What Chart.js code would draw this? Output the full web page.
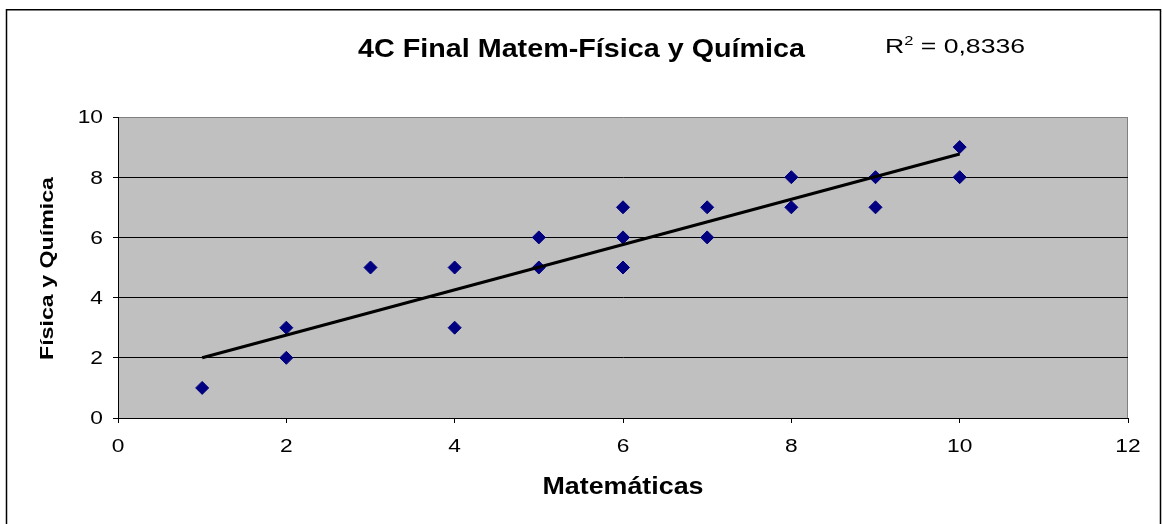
<!DOCTYPE html>
<html lang="es">
<head>
<meta charset="utf-8">
<title>4C Final Matem-Física y Química</title>
<script src="https://cdn.jsdelivr.net/npm/chart.js@4/dist/chart.umd.min.js"></script>
<style>
  html, body { margin: 0; padding: 0; background: #ffffff; }
  #wrap { width: 1162px; height: 524px; }
  canvas { display: block; }
</style>
</head>
<body>
<div id="wrap"><canvas id="grafico" width="1162" height="524"></canvas></div>
<script>
// Notas de cada alumno: Matemáticas (x) frente a Física y Química (y)
const matematicas   = [1, 2, 2, 3, 4, 4, 5, 5, 6, 6, 6, 7, 7, 8, 8, 9, 9, 10, 10];
const fisicaQuimica = [1, 3, 2, 5, 5, 3, 6, 5, 7, 6, 5, 7, 6, 8, 7, 8, 7, 9, 8];

// Extremos de la línea de tendencia lineal
const tendenciaX = [1, 10];
const tendenciaY = [2.0, 8.77];

// Coeficiente de determinación mostrado junto al título
const valorR2 = '0,8336';

// Marcas de los ejes
const ticksX = [0, 2, 4, 6, 8, 10, 12];
const ticksY = [0, 2, 4, 6, 8, 10];

const titulo = '4C Final Matem-Física y Química';
const tituloX = 'Matemáticas';
const tituloY = 'Física y Química';

const FAMILIA = "'Liberation Sans', Arial, Helvetica, sans-serif";

// Texto con escala horizontal (ancho de letra como en la hoja de cálculo)
function texto(ctx, str, x, y, font, sx, align) {
  ctx.save();
  ctx.font = font;
  ctx.fillStyle = '#000';
  ctx.textAlign = align;
  ctx.textBaseline = 'alphabetic';
  ctx.translate(x, y);
  ctx.scale(sx, 1);
  ctx.fillText(str, 0, 0);
  ctx.restore();
}

// Fondo gris del área de trazado y su borde superior/derecho
const fondoArea = {
  id: 'fondoArea',
  beforeDraw(chart) {
    const { ctx, chartArea: a } = chart;
    ctx.save();
    ctx.fillStyle = '#ffffff';
    ctx.fillRect(0, 0, chart.width, chart.height);
    ctx.fillStyle = '#C0C0C0';
    ctx.fillRect(a.left, a.top, a.right - a.left, a.bottom - a.top);
    ctx.strokeStyle = '#808080';
    ctx.lineWidth = 1;
    ctx.beginPath();
    ctx.moveTo(Math.round(a.right) - 0.5, a.top);
    ctx.lineTo(Math.round(a.right) - 0.5, a.bottom);
    ctx.stroke();
    ctx.restore();
  }
};

// Títulos, etiquetas de los ejes, R² y marco exterior
const rotulos = {
  id: 'rotulos',
  afterDraw(chart) {
    const ctx = chart.ctx;
    const sx = chart.scales.x, sy = chart.scales.y;
    const fTick = '17.5px ' + FAMILIA;

    sx.ticks.forEach(t => {
      texto(ctx, String(t.value), sx.getPixelForValue(t.value), 452.3, fTick, 1.3, 'center');
    });
    sy.ticks.forEach(t => {
      texto(ctx, String(t.value), 103, sy.getPixelForValue(t.value) + 6.3, fTick, 1.3, 'right');
    });

    // Título principal
    ctx.save();
    const fTit = 'bold 26px ' + FAMILIA;
    ctx.font = fTit;
    const wTit = ctx.measureText(titulo).width;
    ctx.restore();
    texto(ctx, titulo, 581.5, 57, fTit, 447 / wTit, 'center');

    // R² = valor
    ctx.save();
    const fR = '21px ' + FAMILIA, fSup = '13px ' + FAMILIA;
    const resto = ' = ' + valorR2;
    ctx.font = fR;
    const wR = ctx.measureText('R').width, wResto = ctx.measureText(resto).width;
    ctx.font = fSup;
    const wSup = ctx.measureText('2').width;
    ctx.restore();
    const kR = 140 / (wR + wSup + wResto);
    let xR = 885;
    texto(ctx, 'R', xR, 53.3, fR, kR, 'left');
    xR += wR * kR;
    texto(ctx, '2', xR, 45, fSup, kR, 'left');
    xR += wSup * kR;
    texto(ctx, resto, xR, 53.3, fR, kR, 'left');

    // Título del eje X
    ctx.save();
    const fEje = 'bold 23.5px ' + FAMILIA;
    ctx.font = fEje;
    const wX = ctx.measureText(tituloX).width;
    ctx.restore();
    texto(ctx, tituloX, 623, 494, fEje, 161 / wX, 'center');

    // Título del eje Y (girado)
    ctx.save();
    const fEjeY = 'bold 17.5px ' + FAMILIA;
    ctx.font = fEjeY;
    const wY = ctx.measureText(tituloY).width;
    ctx.translate(53, 268.5);
    ctx.rotate(-Math.PI / 2);
    ctx.scale(183 / wY, 1);
    ctx.fillStyle = '#000';
    ctx.textAlign = 'center';
    ctx.textBaseline = 'alphabetic';
    ctx.fillText(tituloY, 0, 0);
    ctx.restore();

    // Marco del gráfico
    ctx.save();
    ctx.strokeStyle = '#000';
    ctx.lineWidth = 1.5;
    ctx.beginPath();
    ctx.moveTo(6.5, chart.height + 2);
    ctx.lineTo(6.5, 9.75);
    ctx.lineTo(1160.5, 9.75);
    ctx.lineTo(1160.5, chart.height + 2);
    ctx.stroke();
    ctx.restore();
  }
};

const puntos = matematicas.map((x, i) => ({ x: x, y: fisicaQuimica[i] }));
const tendencia = tendenciaX.map((x, i) => ({ x: x, y: tendenciaY[i] }));

new Chart(document.getElementById('grafico'), {
  type: 'scatter',
  data: {
    datasets: [
      {
        type: 'line',
        label: 'Lineal (Física y Química)',
        data: tendencia,
        borderColor: '#000000',
        borderWidth: 3,
        pointRadius: 0,
        fill: false,
        tension: 0,
        order: 0
      },
      {
        label: 'Física y Química',
        data: puntos,
        pointStyle: 'rectRot',
        pointRadius: 6.5,
        pointHoverRadius: 6.5,
        backgroundColor: '#000080',
        borderColor: '#000080',
        borderWidth: 1,
        order: 1
      }
    ]
  },
  options: {
    responsive: false,
    animation: false,
    devicePixelRatio: 1,
    layout: { padding: { left: 0, top: 117, right: 34, bottom: 0 } },
    plugins: {
      legend: { display: false },
      title: { display: false },
      tooltip: { enabled: false }
    },
    scales: {
      x: {
        type: 'linear',
        min: 0,
        max: 12,
        afterBuildTicks(scale) { scale.ticks = ticksX.map(v => ({ value: v })); },
        afterFit(scale) { scale.height = 106; },
        ticks: { color: 'rgba(0,0,0,0)', font: { size: 12 } },
        grid: { drawOnChartArea: false, drawTicks: true, tickLength: 5, tickColor: '#000', lineWidth: 1 },
        border: { display: true, color: '#000', width: 1 }
      },
      y: {
        type: 'linear',
        min: 0,
        max: 10,
        afterBuildTicks(scale) { scale.ticks = ticksY.map(v => ({ value: v })); },
        afterFit(scale) { scale.width = 118; },
        ticks: { color: 'rgba(0,0,0,0)', font: { size: 12 } },
        grid: {
          color: c => (c.tick && c.tick.value === 10 ? '#808080' : '#000000'),
          lineWidth: 1,
          drawTicks: true,
          tickLength: 5,
          tickColor: '#000'
        },
        border: { display: true, color: '#000', width: 1 }
      }
    }
  },
  plugins: [fondoArea, rotulos]
});
</script>
</body>
</html>
